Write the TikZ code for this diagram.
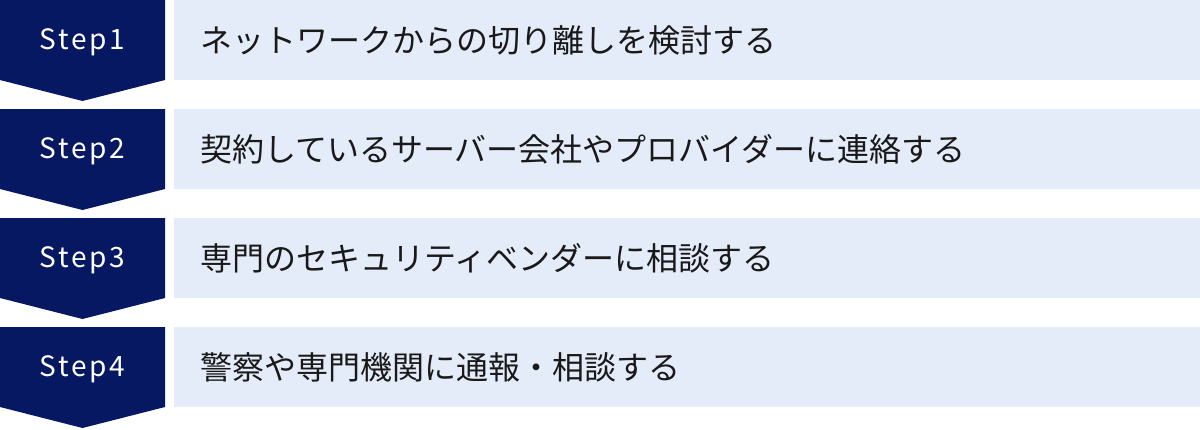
\documentclass[tikz,border=0pt]{standalone}
\usepackage{fontspec}
\setmainfont{Noto Sans CJK JP}
\newfontfamily\stepfont[LetterSpace=10]{Noto Sans CJK JP}
\definecolor{stepnavy}{RGB}{6,24,98}
\definecolor{steplight}{RGB}{229,236,249}
\begin{document}
\begin{tikzpicture}[x=1pt, y=-1pt,
        stepmark/.style={fill=stepnavy},
        steplabel/.style={text=white, anchor=base, font=\stepfont\fontsize{28}{32}\selectfont},
        task/.style={rectangle, fill=steplight, anchor=north west, minimum height=80pt,
            text width=974pt, inner xsep=26pt, align=left, text=black!90,
            font=\fontsize{32}{38}\selectfont}
    ]
        \useasboundingbox (0,0) rectangle (1200,429);

        % Step 1
        \fill[stepmark] (0,0) -- (165,0) -- (165,80) -- (82.5,101) -- (0,80) -- cycle;
        \node[steplabel] (step1) at (82.5,49.5) {Step1};
        \node[task] (task1) at (174,0) {ネットワークからの切り離しを検討する};

        % Step 2
        \fill[stepmark] (0,109) -- (165,109) -- (165,189) -- (82.5,210) -- (0,189) -- cycle;
        \node[steplabel] (step2) at (82.5,158.5) {Step2};
        \node[task] (task2) at (174,109) {契約しているサーバー会社やプロバイダーに連絡する};

        % Step 3
        \fill[stepmark] (0,218) -- (165,218) -- (165,298) -- (82.5,319) -- (0,298) -- cycle;
        \node[steplabel] (step3) at (82.5,267.5) {Step3};
        \node[task] (task3) at (174,218) {専門のセキュリティベンダーに相談する};

        % Step 4
        \fill[stepmark] (0,327) -- (165,327) -- (165,407) -- (82.5,428) -- (0,407) -- cycle;
        \node[steplabel] (step4) at (82.5,376.5) {Step4};
        \node[task] (task4) at (174,327) {警察や専門機関に通報・相談する};
    \end{tikzpicture}
\end{document}
